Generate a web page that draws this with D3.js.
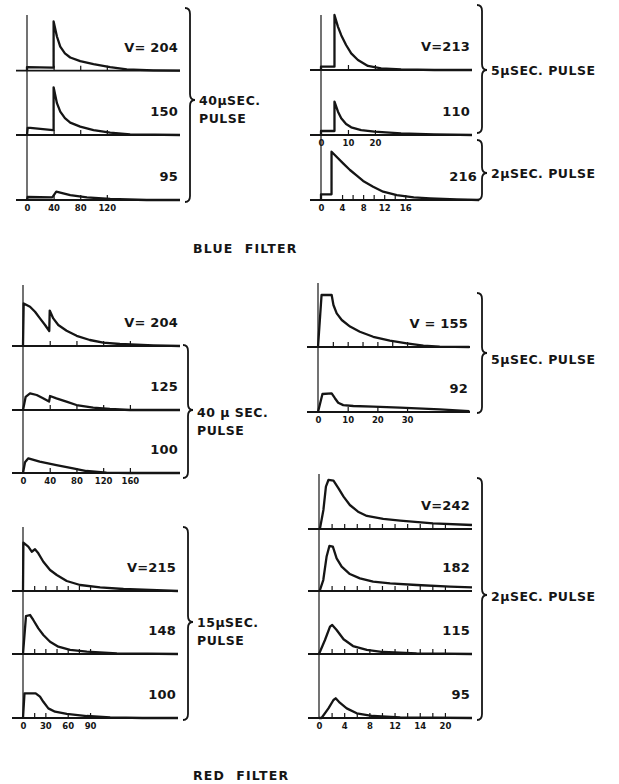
<!DOCTYPE html>
<meta charset="utf-8">
<style>
    body { margin: 0; background: #fff; }
    svg { display: block; }
    text { font-family: "DejaVu Sans", "Liberation Sans", sans-serif; font-weight: bold; fill: #151515; }
    .trace { fill: none; stroke: #151515; stroke-width: 2.3; stroke-linejoin: round; }
    .base { fill: none; stroke: #151515; stroke-width: 1.8; }
    .vax { stroke: #151515; stroke-width: 1.2; }
    .brace { fill: none; stroke: #151515; stroke-width: 1.8; }
    .tk line { stroke: #151515; stroke-width: 1.2; }
</style>
<svg width="619" height="784"></svg>
<script src="https://d3js.org/d3.v7.min.js"></script>
<script>

    // traces: [time in µs, amplitude (0-100)]
    // blue filter, 40 µs pulse
    var blue40V204 = [[0,0],[0,6],[39,5],[40,5],[40,82],[45,57],[50,40],[57,29],[65,22],[80,16],[100,11],[125,6],[150,2.3],[190,0.7],[230,0]];
    var blue40V150 = [[0,0],[1,12],[5,12],[39,8],[40,8],[40,79.5],[45,53],[50,39],[57,28],[65,20.6],[80,14],[100,8.3],[125,3.9],[155,1.1],[230,0]];
    var blue40V95  = [[0,0],[1,5],[38,4.5],[44,14],[65,8],[90,4.4],[125,1.7],[180,0],[230,0]];
    // blue filter, 5 µs and 2 µs pulses
    var blue5V213  = [[0,0],[0,5.5],[5,5.5],[5,91.7],[6.3,72],[7.5,58],[9.3,41.7],[11.2,27.8],[13.7,16.7],[17.4,6.7],[22.3,2.8],[29.7,1.1],[42,0],[56,0]];
    var blue5V110  = [[0,0],[0,6.7],[5,6.7],[5,55.5],[6.3,38.9],[7.5,27.8],[9.3,18.3],[11.2,12.8],[14.9,8.3],[19.8,5.5],[29.7,2.8],[41.9,1.1],[56,0]];
    var blue2V216  = [[0,0],[0,9.4],[2,9.4],[2,80.5],[2.95,72],[4.2,61],[5.5,50],[6.8,40.5],[8,31.7],[9.9,22.2],[11.8,13.9],[14.4,8.3],[17.6,4.4],[20.7,2.8],[25.8,1.1],[30,0]];
    // red filter, 40 µs pulse
    var red40V204 = [[0,0],[1,71],[10.5,65.5],[18,57],[25.4,46],[33,35],[39.3,25],[40,59],[45.3,46],[52.8,35],[65.3,25.5],[80.3,17],[100,10],[120,5.5],[145,3.3],[195,1.1],[235,0]];
    var red40V125 = [[0,0],[4,22],[10.5,27.8],[20.5,25],[30,19.5],[39,14],[40.5,23.3],[50,19.5],[65,14],[80,8.3],[105,3.9],[130,1.7],[160,0],[235,0]];
    var red40V100 = [[0,0],[3,18],[8,24.5],[25,19],[50,13.3],[75,7.8],[95,3.3],[125,0.5],[160,0],[235,0]];
    // red filter, 5 µs pulse
    var red5V155 = [[0,0],[1.2,86.7],[4.6,86.7],[5.2,70],[6.3,56],[8,45],[10.8,34],[14.1,25.5],[18.6,17],[24.2,10.5],[29.9,6],[35.5,2.2],[41,0.5],[51,0]];
    var red5V92  = [[0,0],[1.5,30],[4.6,31],[5.7,23],[6.8,15.5],[8.5,11.5],[11.9,10],[18.6,8.9],[27.6,7.2],[41,4.5],[51,1.5]];
    // red filter, 15 µs pulse
    var red15V215 = [[0,0],[0.5,80.5],[7.1,74],[11.7,65.5],[16.1,69.5],[20.6,62.8],[27.3,48.8],[36.3,35],[45.3,26.7],[58.7,16.7],[76.6,10],[103.5,6.1],[134.8,3.3],[170.7,1.7],[208,0]];
    var red15V148 = [[0,0],[4,63],[9.4,65],[13.8,56.7],[20.6,42.8],[27.3,31.7],[36.3,20.5],[47.4,12.2],[63.2,6.7],[85.6,3.9],[126,1.1],[208,0]];
    var red15V100 = [[0,0],[2,41],[17,41],[22.8,35.5],[27.3,27],[34,16],[43,10.5],[58.7,6.7],[85.6,3.3],[117,1.1],[160,0],[208,0]];
    // red filter, 2 µs pulse
    var red2V242 = [[0,0],[0.16,1],[0.7,31.7],[1.1,70.5],[1.5,81.7],[2.3,80.5],[3.1,67.8],[3.9,53.9],[4.9,40],[6.2,28.9],[7.6,21.7],[10.2,16.7],[12.9,13.9],[18.1,9.5],[24.3,6.7]];
    var red2V182 = [[0,0],[0.16,1.7],[0.68,18.3],[1.2,57],[1.65,75],[2.2,74],[2.8,54.5],[3.6,40.5],[4.9,28.3],[6.5,21],[8.6,15.5],[11.3,12.8],[15.5,10],[20.8,7.2],[24.3,6.1]];
    var red2V115 = [[0,0],[0.95,23.3],[1.75,45.5],[2.1,48.3],[2.8,40],[3.9,24.5],[5.4,13.3],[7.6,6.7],[10.2,3.3],[15.5,1.1],[24.3,0]];
    var red2V95  = [[0,0],[0.4,0],[1.5,16],[2.3,30],[2.65,32.8],[3.3,25.5],[4.4,16],[6,7.8],[8.6,3.3],[12.9,1.1],[24.3,0]];

    // tick values and their printed labels
    var blue40Ticks = [0, 40, 80, 120];
    var blue5Ticks = [0, 10, 20];
    var blue2Ticks = [0, 4, 8, 12, 16];
    var red40Ticks = [0, 40, 80, 120, 160];
    var red5Ticks = [0, 10, 20, 30];
    var red15Ticks = [0, 30, 60, 90];
    var red2Ticks = [0, 4, 8, 12, 16, 20];
    var red2TickText = ["0", "4", "8", "12", "14", "20"];

    var svg = d3.select("svg");

    // panel layout: x0/x1 = pixel span of [0, tEnd], base = baseline y
    var panels = [
        { data: blue40V204, label: "V= 204", x0: 27, x1: 180, tEnd: 230, base: 70.7, marks: [40, 80, 120] },
        { data: blue40V150, label: "150", x0: 27, x1: 180, tEnd: 230, base: 135, marks: [40, 80, 120] },
        { data: blue40V95, label: "95", x0: 27, x1: 180, tEnd: 230, base: 200, marks: [40, 80, 120], ticks: blue40Ticks },
        { data: blue5V213, label: "V=213", x0: 321, x1: 472, tEnd: 56, base: 70, marks: [10, 20] },
        { data: blue5V110, label: "110", x0: 321, x1: 472, tEnd: 56, base: 135, marks: [10, 20], ticks: blue5Ticks },
        { data: blue2V216, label: "216", x0: 321, x1: 479, tEnd: 30, base: 200, marks: [4, 6, 8, 10, 12, 14, 16], ticks: blue2Ticks },
        { data: red40V204, label: "V= 204", x0: 23, x1: 180, tEnd: 235, base: 346, marks: [40, 80, 120, 160] },
        { data: red40V125, label: "125", x0: 23, x1: 180, tEnd: 235, base: 410, marks: [40, 80, 120, 160] },
        { data: red40V100, label: "100", x0: 23, x1: 180, tEnd: 235, base: 473, marks: [40, 80, 120, 160], ticks: red40Ticks },
        { data: red5V155, label: "V = 155", x0: 318, x1: 470, tEnd: 51.2, base: 347, marks: [5, 10, 15, 20, 25, 30] },
        { data: red5V92, label: "92", x0: 318, x1: 470, tEnd: 51.2, base: 412, marks: [10, 20, 30], ticks: red5Ticks },
        { data: red15V215, label: "V=215", x0: 23, x1: 178, tEnd: 208, base: 591, marks: [15, 30, 45, 60, 75, 90] },
        { data: red15V148, label: "148", x0: 23, x1: 178, tEnd: 208, base: 654, marks: [15, 30, 45, 60, 75, 90] },
        { data: red15V100, label: "100", x0: 23, x1: 178, tEnd: 208, base: 718, marks: [15, 30, 60, 90], ticks: red15Ticks },
        { data: red2V242, label: "V=242", x0: 319, x1: 472, tEnd: 24.3, base: 529, marks: d3.range(2, 21, 2) },
        { data: red2V182, label: "182", x0: 319, x1: 472, tEnd: 24.3, base: 591, marks: d3.range(2, 21, 2) },
        { data: red2V115, label: "115", x0: 319, x1: 472, tEnd: 24.3, base: 654, marks: d3.range(2, 21, 2) },
        { data: red2V95, label: "95", x0: 319, x1: 472, tEnd: 24.3, base: 718, marks: d3.range(2, 21, 2), ticks: red2Ticks, tickText: red2TickText }
    ];

    // vertical axes of each stack
    var axes = [
        { x: 27, y0: 15, y1: 200 }, { x: 321, y0: 15, y1: 200 },
        { x: 23, y0: 285, y1: 473 }, { x: 318, y0: 283, y1: 412 },
        { x: 23, y0: 527, y1: 718 }, { x: 319, y0: 474, y1: 718 }
    ];

    // braces and their captions
    var braces = [
        { x: 190, y0: 8, y1: 202, ym: 100, lines: ["40\u00b5SEC.", "PULSE"], ty: 105 },
        { x: 482, y0: 5, y1: 133, ym: 70, lines: ["5\u00b5SEC. PULSE"], ty: 75 },
        { x: 482, y0: 140, y1: 200, ym: 173, lines: ["2\u00b5SEC. PULSE"], ty: 178 },
        { x: 188, y0: 345, y1: 478, ym: 410, lines: ["40 \u00b5 SEC.", "PULSE"], ty: 417 },
        { x: 482, y0: 293, y1: 413, ym: 353, lines: ["5\u00b5SEC. PULSE"], ty: 364 },
        { x: 188, y0: 527, y1: 720, ym: 622, lines: ["15\u00b5SEC.", "PULSE"], ty: 627 },
        { x: 482, y0: 478, y1: 720, ym: 595, lines: ["2\u00b5SEC. PULSE"], ty: 601 }
    ];

    svg.selectAll(".vax").data(axes).join("line")
        .attr("class", "vax")
        .attr("x1", d => d.x).attr("x2", d => d.x)
        .attr("y1", d => d.y0).attr("y2", d => d.y1);

    panels.forEach(function (p) {
        var x = d3.scaleLinear().domain([0, p.tEnd]).range([p.x0, p.x1]);
        var y = d3.scaleLinear().domain([0, 100]).range([p.base, p.base - 60]);
        var g = svg.append("g");

        g.append("path").attr("class", "base")
            .attr("d", "M" + (x(0) - 11) + "," + p.base + "H" + x(p.tEnd));

        // little upward ticks on the baseline
        g.append("g").attr("class", "tk")
            .attr("transform", "translate(0," + p.base + ")")
            .call(d3.axisBottom(x).tickValues(p.marks).tickSize(-5).tickFormat(""))
            .call(a => a.select(".domain").remove());

        g.append("path").datum(p.data).attr("class", "trace")
            .attr("d", d3.line().x(d => x(d[0])).y(d => y(d[1])));

        g.append("text")
            .attr("x", p.x1 - 2).attr("y", p.base - 19)
            .attr("text-anchor", "end")
            .attr("font-size", 13).attr("letter-spacing", 0.2)
            .text(p.label);

        if (p.ticks) {
            var lab = p.tickText || p.ticks.map(String);
            var ax = g.append("g")
                .attr("transform", "translate(0," + p.base + ")")
                .call(d3.axisBottom(x).tickValues(p.ticks).tickSize(0).tickPadding(5)
                    .tickFormat((d, i) => lab[i]));
            ax.select(".domain").remove();
            ax.selectAll("text").attr("font-size", 8.5)
                .attr("font-family", "\"DejaVu Sans\", sans-serif")
                .attr("font-weight", "bold").attr("fill", "#151515");
        }
    });

    function bracePath(b) {
        var w = 5, r = 6, x = b.x;
        return "M" + (x - w) + "," + b.y0 +
            "Q" + x + "," + b.y0 + " " + x + "," + (b.y0 + r) +
            "L" + x + "," + (b.ym - r) +
            "Q" + x + "," + b.ym + " " + (x + w) + "," + b.ym +
            "Q" + x + "," + b.ym + " " + x + "," + (b.ym + r) +
            "L" + x + "," + (b.y1 - r) +
            "Q" + x + "," + b.y1 + " " + (x - w) + "," + b.y1;
    }

    braces.forEach(function (b) {
        svg.append("path").attr("class", "brace").attr("d", bracePath(b));
        b.lines.forEach(function (s, i) {
            svg.append("text")
                .attr("x", b.x + 9).attr("y", b.ty + i * 18)
                .attr("font-size", 12.5).attr("letter-spacing", 0.5)
                .text(s);
        });
    });

    var titles = [
        { text: "BLUE  FILTER", x: 193, y: 253 },
        { text: "RED  FILTER", x: 193, y: 780 }
    ];
    svg.selectAll(".title").data(titles).join("text")
        .attr("class", "title")
        .attr("x", d => d.x).attr("y", d => d.y)
        .attr("font-size", 12.5).attr("letter-spacing", 1.2)
        .style("white-space", "pre")
        .text(d => d.text);

</script>
